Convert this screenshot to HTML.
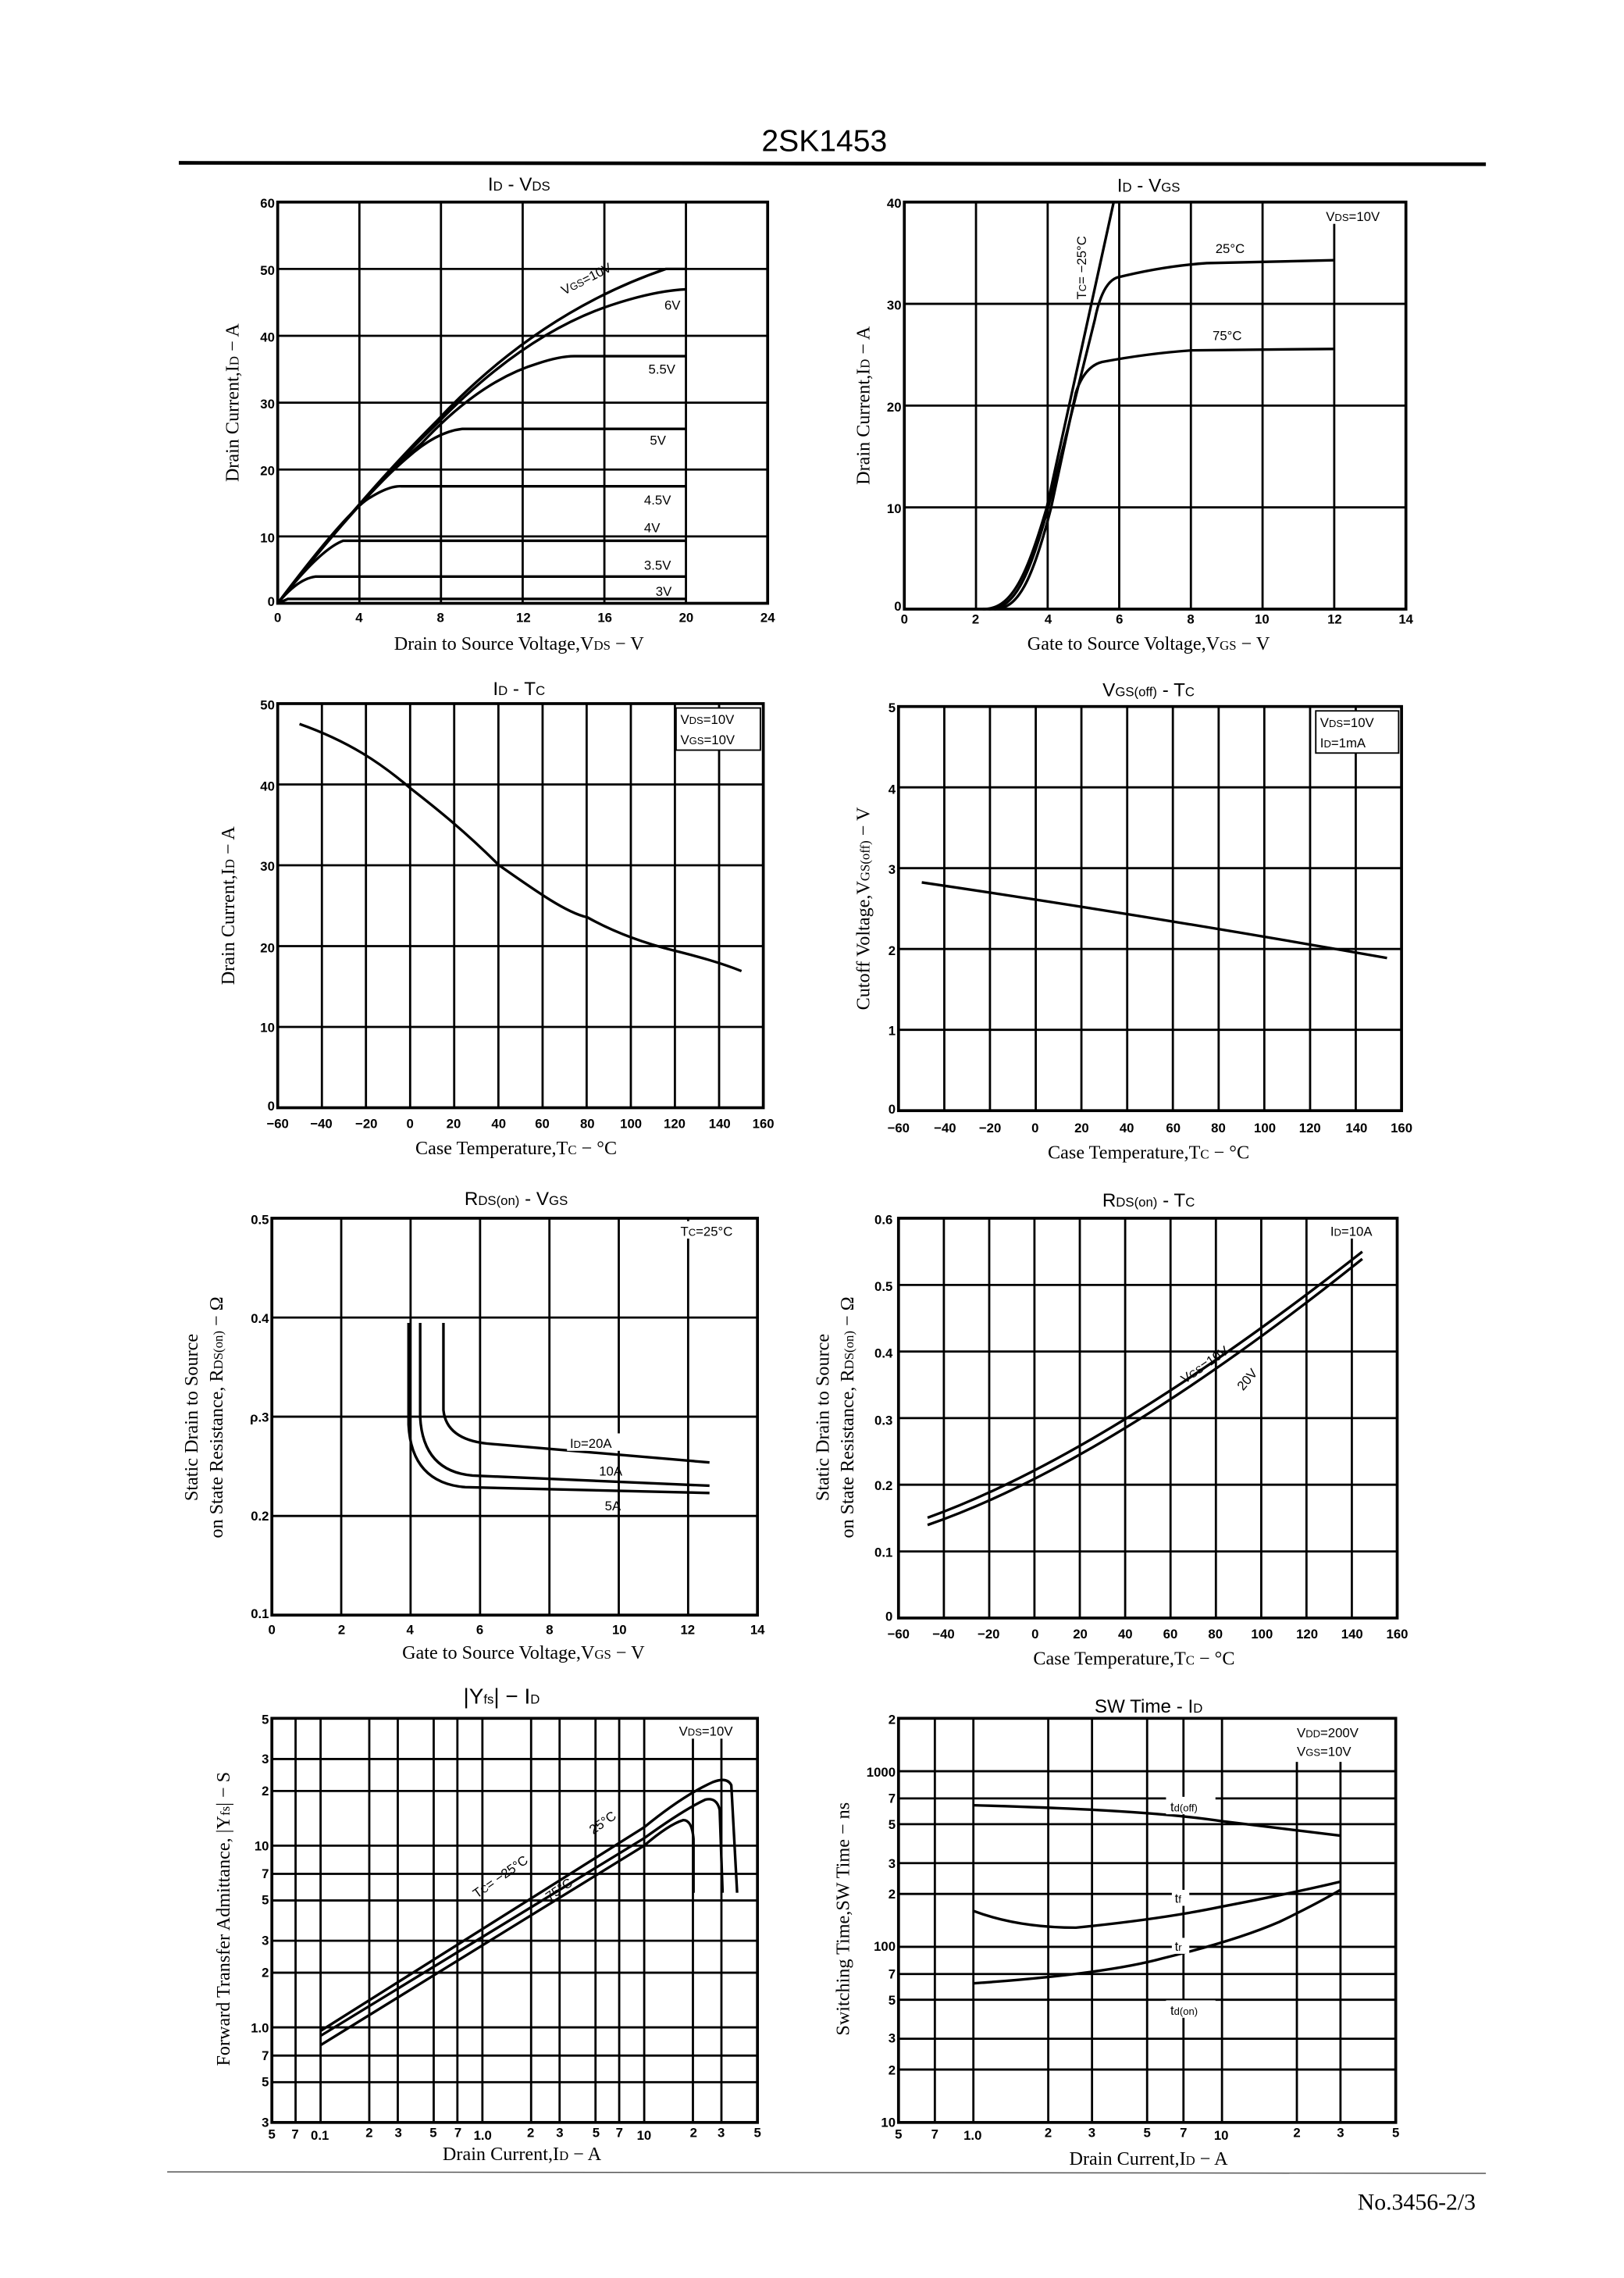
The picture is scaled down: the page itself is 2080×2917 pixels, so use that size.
<!DOCTYPE html>
<html><head><meta charset="utf-8"><style>
html,body{margin:0;padding:0;background:#fff;}
svg{display:block;}
text{font-family:"Liberation Sans",sans-serif;fill:#000;}
.t{font-size:9px;font-weight:bold;}
.ti{font-size:13px;}
.ax{font-family:"Liberation Serif",serif;font-size:13px;}
.lb{font-size:9px;}
.f{fill:none;stroke:#000;stroke-width:2;}
.g{stroke:#000;stroke-width:1.5;fill:none;}
.c{fill:none;stroke:#000;stroke-width:1.8;}
</style></head><body>
<svg width="2080" height="2917" viewBox="0 0 1117 1567" preserveAspectRatio="none" xmlns="http://www.w3.org/2000/svg">
<rect width="1117" height="1567" fill="#fff"/>
<text x="567" y="104" text-anchor="middle" style="font-size:21px">2SK1453</text>
<line x1="123" y1="112" x2="1022" y2="113" stroke="#000" stroke-width="2.5"/>

<!-- Chart 1 ID-VDS -->
<text class="ti" x="357" y="131" text-anchor="middle">I<tspan font-size="9">D</tspan> - V<tspan font-size="9">DS</tspan></text>
<g class="g">
<path d="M247.2,139V415M303.3,139V415M359.5,139V415M415.7,139V415M471.8,139V415M191,185H528M191,231H528M191,277H528M191,323H528M191,369H528"/>
</g>
<rect class="f" x="191" y="139" width="337" height="276"/>
<g class="c">
<path d="M191,415 Q250,340 300,290 Q370,215 458,185 L472,185"/>
<path d="M191,415 Q250,340 300,292 Q360,230 420,210 Q450,200 472,199"/>
<path d="M191,415 Q248,342 290,305 Q330,262 370,250 Q385,245 395,245 L472,245"/>
<path d="M191,415 Q245,345 280,315 Q300,297 318,295 L472,295"/>
<path d="M191,415 Q240,350 255,342 Q268,334 276,334.5 L472,334.5"/>
<path d="M191,415 Q220,378 236,372 L472,372"/>
<path d="M191,415 Q205,398 217,396.6 L472,396.6"/>
<path d="M191,415 L198,412 L472,412"/>
</g>
<text class="lb" transform="translate(388,203) rotate(-27)">V<tspan font-size="7">GS</tspan>=10V</text>
<text class="lb" x="457" y="213">6V</text>
<text class="lb" x="446" y="257">5.5V</text>
<text class="lb" x="447" y="306">5V</text>
<text class="lb" x="443" y="347">4.5V</text>
<text class="lb" x="443" y="366">4V</text>
<text class="lb" x="443" y="392">3.5V</text>
<text class="lb" x="451" y="410">3V</text>
<g class="t" text-anchor="middle">
<text x="191" y="428">0</text><text x="247" y="428">4</text><text x="303" y="428">8</text><text x="360" y="428">12</text><text x="416" y="428">16</text><text x="472" y="428">20</text><text x="528" y="428">24</text>
</g>
<g class="t" text-anchor="end">
<text x="189" y="143">60</text><text x="189" y="189">50</text><text x="189" y="235">40</text><text x="189" y="281">30</text><text x="189" y="327">20</text><text x="189" y="373">10</text><text x="189" y="417">0</text>
</g>
<text class="ax" transform="translate(164,277) rotate(-90)" text-anchor="middle">Drain Current,I<tspan font-size="9">D</tspan> − A</text>
<text class="ax" x="357" y="447" text-anchor="middle">Drain to Source Voltage,V<tspan font-size="9">DS</tspan> − V</text>

<!-- Chart 2 ID-VGS -->
<text class="ti" x="790" y="132" text-anchor="middle">I<tspan font-size="9">D</tspan> - V<tspan font-size="9">GS</tspan></text>
<g class="g"><path d="M671.3,139V419M720.6,139V419M769.8,139V419M819.1,139V419M868.4,139V419M917.7,150V419M622,209H967M622,279H967M622,349H967"/></g>
<rect class="f" x="622" y="139" width="345" height="280"/>
<rect x="908" y="141" width="57" height="13" fill="#fff"/>
<text class="lb" x="912" y="152">V<tspan font-size="7">DS</tspan>=10V</text>
<g class="c">
<path d="M676,419 C695,419 705,400 720,349 L766,139"/>
<path d="M680,419 C697,419 707,400 721,349 L753,220 Q758,195 768,191 Q800,183 830,181 L918,179"/>
<path d="M684,419 C700,419 710,400 723,349 L740,270 Q746,252 758,249 Q790,243 820,241 L918,240"/>
</g>
<text class="lb" x="836" y="174">25°C</text>
<text class="lb" x="834" y="234">75°C</text>
<rect x="737" y="148" width="12" height="58" fill="#fff"/>
<text class="lb" transform="translate(747,206) rotate(-90)">T<tspan font-size="7">C</tspan>= −25°C</text>
<g class="t" text-anchor="middle">
<text x="622" y="429">0</text><text x="671" y="429">2</text><text x="721" y="429">4</text><text x="770" y="429">6</text><text x="819" y="429">8</text><text x="868" y="429">10</text><text x="918" y="429">12</text><text x="967" y="429">14</text>
</g>
<g class="t" text-anchor="end">
<text x="620" y="143">40</text><text x="620" y="213">30</text><text x="620" y="283">20</text><text x="620" y="353">10</text><text x="620" y="420">0</text>
</g>
<text class="ax" transform="translate(598,279) rotate(-90)" text-anchor="middle">Drain Current,I<tspan font-size="9">D</tspan> − A</text>
<text class="ax" x="790" y="447" text-anchor="middle">Gate to Source Voltage,V<tspan font-size="9">GS</tspan> − V</text>

<!-- Chart 3 ID-TC -->
<text class="ti" x="357" y="478" text-anchor="middle">I<tspan font-size="9">D</tspan> - T<tspan font-size="9">C</tspan></text>
<g class="g"><path d="M221.4,484V762M251.7,484V762M282.1,484V762M312.4,484V762M342.8,484V762M373.2,484V762M403.5,484V762M433.9,484V762M464.2,484V762M494.6,484V762M191,706.4H525M191,650.8H525M191,595.2H525M191,539.6H525"/></g>
<rect class="f" x="191" y="484" width="334" height="278"/>
<rect x="465" y="487" width="58" height="29" fill="#fff" stroke="#000" stroke-width="1"/>
<text class="lb" x="468" y="498">V<tspan font-size="7">DS</tspan>=10V</text>
<text class="lb" x="468" y="512">V<tspan font-size="7">GS</tspan>=10V</text>
<path class="c" d="M206,498 C240,510 262,525 282,542 C300,556 320,572 343,595 C370,614 390,628 404,631 C420,640 440,648 464,654 C480,658 495,662 510,668"/>
<g class="t" text-anchor="middle">
<text x="191" y="776">−60</text><text x="221" y="776">−40</text><text x="252" y="776">−20</text><text x="282" y="776">0</text><text x="312" y="776">20</text><text x="343" y="776">40</text><text x="373" y="776">60</text><text x="404" y="776">80</text><text x="434" y="776">100</text><text x="464" y="776">120</text><text x="495" y="776">140</text><text x="525" y="776">160</text>
</g>
<g class="t" text-anchor="end">
<text x="189" y="488">50</text><text x="189" y="544">40</text><text x="189" y="599">30</text><text x="189" y="655">20</text><text x="189" y="710">10</text><text x="189" y="764">0</text>
</g>
<text class="ax" transform="translate(161,623) rotate(-90)" text-anchor="middle">Drain Current,I<tspan font-size="9">D</tspan> − A</text>
<text class="ax" x="355" y="794" text-anchor="middle">Case Temperature,T<tspan font-size="9">C</tspan> − °C</text>

<!-- Chart 4 VGS(off)-TC -->
<text class="ti" x="790" y="479" text-anchor="middle">V<tspan font-size="9">GS(off)</tspan> - T<tspan font-size="9">C</tspan></text>
<g class="g"><path d="M649.5,486V764M680.9,486V764M712.4,486V764M743.8,486V764M775.3,486V764M806.7,486V764M838.2,486V764M869.6,486V764M901.1,486V764M932.5,486V764M618,708.4H964M618,652.8H964M618,597.2H964M618,541.6H964"/></g>
<rect class="f" x="618" y="486" width="346" height="278"/>
<rect x="905" y="489" width="57" height="29" fill="#fff" stroke="#000" stroke-width="1"/>
<text class="lb" x="908" y="500">V<tspan font-size="7">DS</tspan>=10V</text>
<text class="lb" x="908" y="514">I<tspan font-size="7">D</tspan>=1mA</text>
<path class="c" d="M634,607 Q790,630 954,659"/>
<g class="t" text-anchor="middle">
<text x="618" y="779">−60</text><text x="650" y="779">−40</text><text x="681" y="779">−20</text><text x="712" y="779">0</text><text x="744" y="779">20</text><text x="775" y="779">40</text><text x="807" y="779">60</text><text x="838" y="779">80</text><text x="870" y="779">100</text><text x="901" y="779">120</text><text x="933" y="779">140</text><text x="964" y="779">160</text>
</g>
<g class="t" text-anchor="end">
<text x="616" y="490">5</text><text x="616" y="546">4</text><text x="616" y="601">3</text><text x="616" y="657">2</text><text x="616" y="712">1</text><text x="616" y="766">0</text>
</g>
<text class="ax" transform="translate(598,625) rotate(-90)" text-anchor="middle">Cutoff Voltage,V<tspan font-size="9">GS(off)</tspan> − V</text>
<text class="ax" x="790" y="797" text-anchor="middle">Case Temperature,T<tspan font-size="9">C</tspan> − °C</text>

<!-- Chart 5 RDS(on)-VGS -->
<text class="ti" x="355" y="829" text-anchor="middle">R<tspan font-size="9">DS(on)</tspan> - V<tspan font-size="9">GS</tspan></text>
<g class="g"><path d="M234.7,838V1111M282.4,838V1111M330.2,838V1111M377.9,838V1111M425.6,838V1111M473.3,838V1111M187,1042.8H521M187,974.5H521M187,906.3H521"/></g>
<rect class="f" x="187" y="838" width="334" height="273"/>
<rect x="464" y="840" width="55" height="12" fill="#fff"/>
<text class="lb" x="468" y="850">T<tspan font-size="7">C</tspan>=25°C</text>
<g class="c">
<path d="M281,910 L281,980 Q283,1020 320,1023 L488,1027"/>
<path d="M289,910 L289,975 Q291,1012 325,1015 L488,1022"/>
<path d="M305,910 L305,970 Q307,990 335,993 L488,1006"/>
</g>
<rect x="390" y="986" width="46" height="12" fill="#fff"/>
<text class="lb" x="392" y="996">I<tspan font-size="7">D</tspan>=20A</text>
<text class="lb" x="412" y="1015">10A</text>
<text class="lb" x="416" y="1039">5A</text>
<g class="t" text-anchor="middle">
<text x="187" y="1124">0</text><text x="235" y="1124">2</text><text x="282" y="1124">4</text><text x="330" y="1124">6</text><text x="378" y="1124">8</text><text x="426" y="1124">10</text><text x="473" y="1124">12</text><text x="521" y="1124">14</text>
</g>
<g class="t" text-anchor="end">
<text x="185" y="842">0.5</text><text x="185" y="910">0.4</text><text x="185" y="978">ρ.3</text><text x="185" y="1046">0.2</text><text x="185" y="1113">0.1</text>
</g>
<text class="ax" transform="translate(136,975) rotate(-90)" text-anchor="middle">Static Drain to Source</text>
<text class="ax" transform="translate(153,975) rotate(-90)" text-anchor="middle">on State Resistance, R<tspan font-size="9">DS(on)</tspan> − Ω</text>
<text class="ax" x="360" y="1141" text-anchor="middle">Gate to Source Voltage,V<tspan font-size="9">GS</tspan> − V</text>

<!-- Chart 6 RDS(on)-TC -->
<text class="ti" x="790" y="830" text-anchor="middle">R<tspan font-size="9">DS(on)</tspan> - T<tspan font-size="9">C</tspan></text>
<g class="g"><path d="M649.2,838V1113M680.4,838V1113M711.5,838V1113M742.7,838V1113M773.9,838V1113M805.1,838V1113M836.3,838V1113M867.5,838V1113M898.6,838V1113M929.8,852V1113M618,1067.2H961M618,1021.3H961M618,975.5H961M618,929.7H961M618,883.9H961"/></g>
<rect class="f" x="618" y="838" width="343" height="275"/>
<rect x="912" y="840" width="47" height="12" fill="#fff"/>
<text class="lb" x="915" y="850">I<tspan font-size="7">D</tspan>=10A</text>
<g class="c">
<path d="M638,1044 Q760,1000 937,861"/>
<path d="M638,1049 Q762,1006 937,866"/>
</g>
<text class="lb" transform="translate(815,952) rotate(-35)">V<tspan font-size="7">GS</tspan>=10V</text>
<text class="lb" transform="translate(855,957) rotate(-50)">20V</text>
<g class="t" text-anchor="middle">
<text x="618" y="1127">−60</text><text x="649" y="1127">−40</text><text x="680" y="1127">−20</text><text x="712" y="1127">0</text><text x="743" y="1127">20</text><text x="774" y="1127">40</text><text x="805" y="1127">60</text><text x="836" y="1127">80</text><text x="868" y="1127">100</text><text x="899" y="1127">120</text><text x="930" y="1127">140</text><text x="961" y="1127">160</text>
</g>
<g class="t" text-anchor="end">
<text x="614" y="842">0.6</text><text x="614" y="888">0.5</text><text x="614" y="934">0.4</text><text x="614" y="980">0.3</text><text x="614" y="1025">0.2</text><text x="614" y="1071">0.1</text><text x="614" y="1115">0</text>
</g>
<text class="ax" transform="translate(570,975) rotate(-90)" text-anchor="middle">Static Drain to Source</text>
<text class="ax" transform="translate(587,975) rotate(-90)" text-anchor="middle">on State Resistance, R<tspan font-size="9">DS(on)</tspan> − Ω</text>
<text class="ax" x="780" y="1145" text-anchor="middle">Case Temperature,T<tspan font-size="9">C</tspan> − °C</text>

<!-- Chart 7 |Yfs|-ID -->
<text class="ti" x="345" y="1172" text-anchor="middle" style="font-size:15px">|Y<tspan font-size="9">fs</tspan>|  −  I<tspan font-size="9">D</tspan></text>
<g class="g"><path d="M203.3,1182V1460M220.5,1182V1460M254,1182V1460M273.6,1182V1460M298.3,1182V1460M314.6,1182V1460M331.8,1182V1460M365.3,1182V1460M384.9,1182V1460M409.6,1182V1460M425.9,1182V1460M443.1,1182V1460M476.6,1190V1460M496.2,1190V1460M187,1210H521M187,1232H521M187,1269.6H521M187,1289H521M187,1307.3H521M187,1335H521M187,1357H521M187,1394.6H521M187,1414H521M187,1432.3H521"/></g>
<rect class="f" x="187" y="1182" width="334" height="278"/>
<rect x="464" y="1184" width="55" height="12" fill="#fff"/>
<text class="lb" x="467" y="1194">V<tspan font-size="7">DS</tspan>=10V</text>
<g class="c">
<path d="M220.5,1397 L443,1257 Q470,1235 490,1226 Q500,1222 503,1228 L507,1302"/>
<path d="M220.5,1400.4 L443,1264.5 Q470,1245 485,1238 Q493,1236 495,1245 L497,1302"/>
<path d="M220.5,1406.8 L443,1269.6 Q460,1255 470,1252 Q476,1252 477,1265 L477,1302"/>
</g>
<text class="lb" transform="translate(408,1262) rotate(-35)">25°C</text>
<text class="lb" transform="translate(328,1306) rotate(-35)">T<tspan font-size="7">C</tspan>= −25°C</text>
<text class="lb" transform="translate(378,1308) rotate(-35)">75°C</text>
<g class="t" text-anchor="middle">
<text x="187" y="1471">5</text><text x="203" y="1471">7</text><text x="220" y="1472">0.1</text><text x="254" y="1470">2</text><text x="274" y="1470">3</text><text x="298" y="1470">5</text><text x="315" y="1470">7</text><text x="332" y="1472">1.0</text><text x="365" y="1470">2</text><text x="385" y="1470">3</text><text x="410" y="1470">5</text><text x="426" y="1470">7</text><text x="443" y="1472">10</text><text x="477" y="1470">2</text><text x="496" y="1470">3</text><text x="521" y="1470">5</text>
</g>
<g class="t" text-anchor="end">
<text x="185" y="1186">5</text><text x="185" y="1213">3</text><text x="185" y="1235">2</text><text x="185" y="1273">10</text><text x="185" y="1292">7</text><text x="185" y="1310">5</text><text x="185" y="1338">3</text><text x="185" y="1360">2</text><text x="185" y="1398">1.0</text><text x="185" y="1417">7</text><text x="185" y="1435">5</text><text x="185" y="1463">3</text>
</g>
<text class="ax" transform="translate(158,1320) rotate(-90)" text-anchor="middle">Forward Transfer Admittance, |Y<tspan font-size="9">fs</tspan>|  −  S</text>
<text class="ax" x="359" y="1486" text-anchor="middle">Drain Current,I<tspan font-size="9">D</tspan> − A</text>

<!-- Chart 8 SW Time-ID -->
<text class="ti" x="790" y="1178" text-anchor="middle">SW  Time  -  I<tspan font-size="9">D</tspan></text>
<g class="g"><path d="M643,1182V1460M669.5,1182V1460M721,1182V1460M751.1,1182V1460M789,1182V1460M814,1182V1460M840.5,1182V1460M892,1212V1460M922,1212V1460M618,1218.4H960M618,1237.1H960M618,1254.8H960M618,1281.6H960M618,1302.8H960M618,1339.2H960M618,1357.9H960M618,1375.6H960M618,1402.4H960M618,1423.6H960"/></g>
<rect class="f" x="618" y="1182" width="342" height="278"/>
<rect x="888" y="1184" width="70" height="26" fill="#fff"/>
<text class="lb" x="892" y="1195">V<tspan font-size="7">DD</tspan>=200V</text>
<text class="lb" x="892" y="1208">V<tspan font-size="7">GS</tspan>=10V</text>
<g class="c">
<path d="M669.5,1241.8 Q790,1245 840,1252.7 L922,1262.7"/>
<path d="M669.5,1314.5 Q700,1326 740,1326 Q800,1320 840,1311.6 Q890,1302 922,1294.4"/>
<path d="M669.5,1364.3 Q760,1358 800,1347 Q850,1335 880,1322 Q905,1310 922,1300"/>
</g>
<rect x="802" y="1236" width="34" height="12" fill="#fff"/>
<text class="lb" x="805" y="1246">t<tspan font-size="7">d(off)</tspan></text>
<rect x="806" y="1300" width="12" height="11" fill="#fff"/>
<text class="lb" x="808" y="1309">t<tspan font-size="7">f</tspan></text>
<rect x="806" y="1333" width="12" height="11" fill="#fff"/>
<text class="lb" x="808" y="1342">t<tspan font-size="7">r</tspan></text>
<rect x="802" y="1376" width="34" height="12" fill="#fff"/>
<text class="lb" x="805" y="1386">t<tspan font-size="7">d(on)</tspan></text>
<g class="t" text-anchor="middle">
<text x="618" y="1471">5</text><text x="643" y="1471">7</text><text x="669" y="1472">1.0</text><text x="721" y="1470">2</text><text x="751" y="1470">3</text><text x="789" y="1470">5</text><text x="814" y="1470">7</text><text x="840" y="1472">10</text><text x="892" y="1470">2</text><text x="922" y="1470">3</text><text x="960" y="1470">5</text>
</g>
<g class="t" text-anchor="end">
<text x="616" y="1186">2</text><text x="616" y="1222">1000</text><text x="616" y="1240">7</text><text x="616" y="1258">5</text><text x="616" y="1285">3</text><text x="616" y="1306">2</text><text x="616" y="1342">100</text><text x="616" y="1361">7</text><text x="616" y="1379">5</text><text x="616" y="1405">3</text><text x="616" y="1427">2</text><text x="616" y="1463">10</text>
</g>
<text class="ax" transform="translate(584,1320) rotate(-90)" text-anchor="middle">Switching Time,SW Time − ns</text>
<text class="ax" x="790" y="1489" text-anchor="middle">Drain Current,I<tspan font-size="9">D</tspan> − A</text>

<line x1="115" y1="1494" x2="1022" y2="1495" stroke="#555" stroke-width="0.8"/>
<text x="1015" y="1520" text-anchor="end" style="font-family:'Liberation Serif',serif;font-size:16px">No.3456-2/3</text>
</svg>
</body></html>
